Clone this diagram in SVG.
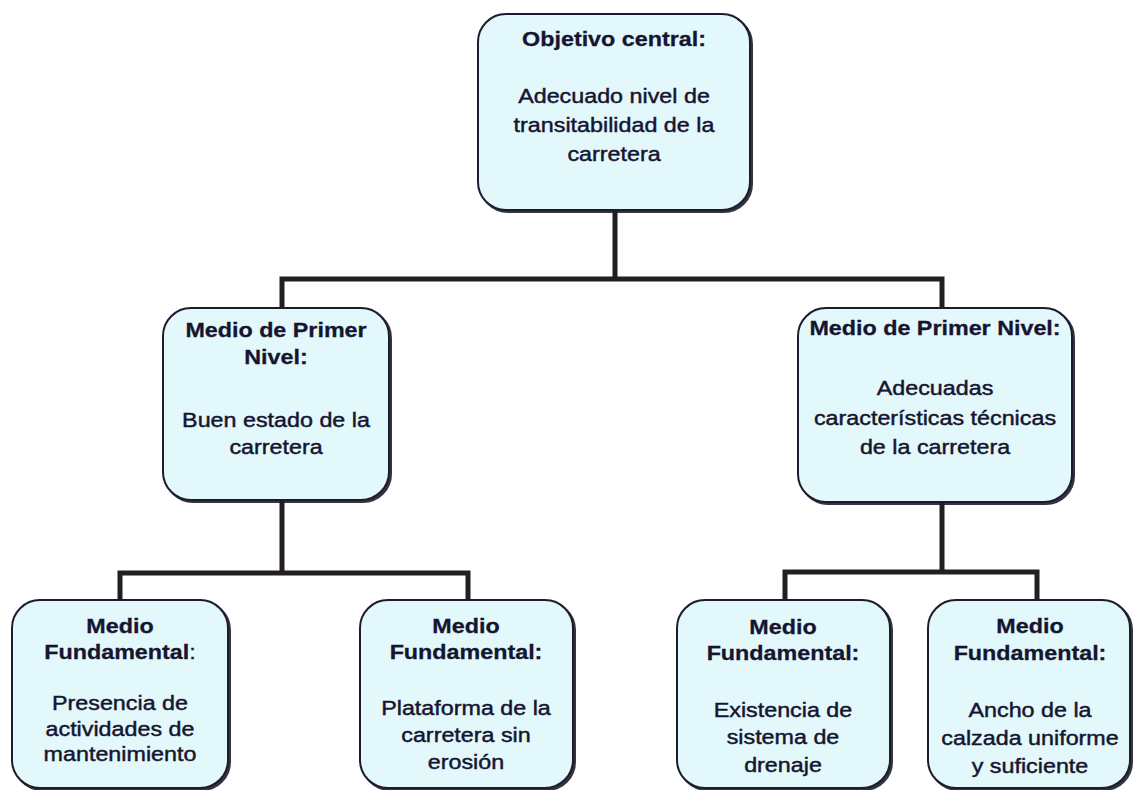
<svg xmlns="http://www.w3.org/2000/svg" width="1135" height="790" viewBox="0 0 1135 790">
  <defs>
    <filter id="edge" x="-5%" y="-5%" width="112%" height="112%">
      <feDropShadow dx="2" dy="2" stdDeviation="0.6" flood-color="#1e1e2a" flood-opacity="0.9"/>
    </filter>
    <style>
      .box { fill: #e3f8fb; stroke: #1e1e2e; stroke-width: 2; filter: url(#edge); }
      .wire { fill: none; stroke: #221e22; stroke-width: 5; stroke-linecap: square; }
      text { font-family: "Liberation Sans", Arial, sans-serif; font-size: 21px; fill: #151530; stroke: #151530; stroke-width: 0.45; text-anchor: middle; }
      .b { font-weight: bold; stroke-width: 0.3; }
      .n { font-weight: normal; }
    </style>
  </defs>
  <rect width="1135" height="790" fill="#ffffff"/>

  <!-- connectors -->
  <g id="connectors">
    <path class="wire" d="M615 210 V279 M282 279 H942 M282 279 V308 M942 279 V308"/>
    <path class="wire" d="M282 500 V573 M120 573 H468 M120 573 V600 M468 573 V600"/>
    <path class="wire" d="M942 502 V572 M785 572 H1037 M785 572 V600 M1037 572 V600"/>
  </g>

  <!-- central objective -->
  <g id="objetivo-central">
    <rect class="box" x="478" y="14" width="272" height="196" rx="28"/>
    <g transform="translate(614 0) scale(1.11 1)">
      <text class="b" x="0" y="46">Objetivo central:</text>
      <text x="0" y="103">Adecuado nivel de</text>
      <text x="0" y="132">transitabilidad de la</text>
      <text x="0" y="161">carretera</text>
    </g>
  </g>

  <!-- first level means -->
  <g id="medio-primer-nivel-1">
    <rect class="box" x="163" y="308" width="226" height="192" rx="28"/>
    <g transform="translate(276 0) scale(1.11 1)">
      <text class="b" x="0" y="337">Medio de Primer</text>
      <text class="b" x="0" y="364">Nivel:</text>
      <text x="0" y="427">Buen estado de la</text>
      <text x="0" y="454">carretera</text>
    </g>
  </g>

  <g id="medio-primer-nivel-2">
    <rect class="box" x="798" y="308" width="274" height="194" rx="28"/>
    <g transform="translate(935 0) scale(1.11 1)">
      <text class="b" x="0" y="335">Medio de Primer Nivel:</text>
      <text x="0" y="395">Adecuadas</text>
      <text x="0" y="425">características técnicas</text>
      <text x="0" y="454">de la carretera</text>
    </g>
  </g>

  <!-- fundamental means -->
  <g id="medio-fundamental-1">
    <rect class="box" x="12" y="600" width="216" height="188" rx="28"/>
    <g transform="translate(120 0) scale(1.11 1)">
      <text class="b" x="0" y="633">Medio</text>
      <text class="b" x="0" y="659">Fundamental<tspan class="n">:</tspan></text>
      <text x="0" y="710">Presencia de</text>
      <text x="0" y="736">actividades de</text>
      <text x="0" y="761">mantenimiento</text>
    </g>
  </g>

  <g id="medio-fundamental-2">
    <rect class="box" x="360" y="600" width="213" height="188" rx="28"/>
    <g transform="translate(466 0) scale(1.11 1)">
      <text class="b" x="0" y="633">Medio</text>
      <text class="b" x="0" y="659">Fundamental:</text>
      <text x="0" y="715">Plataforma de la</text>
      <text x="0" y="742">carretera sin</text>
      <text x="0" y="769">erosión</text>
    </g>
  </g>

  <g id="medio-fundamental-3">
    <rect class="box" x="677" y="600" width="213" height="188" rx="28"/>
    <g transform="translate(783 0) scale(1.11 1)">
      <text class="b" x="0" y="634">Medio</text>
      <text class="b" x="0" y="660">Fundamental:</text>
      <text x="0" y="717">Existencia de</text>
      <text x="0" y="744">sistema de</text>
      <text x="0" y="772">drenaje</text>
    </g>
  </g>

  <g id="medio-fundamental-4">
    <rect class="box" x="928" y="600" width="202" height="188" rx="28"/>
    <g transform="translate(1030 0) scale(1.11 1)">
      <text class="b" x="0" y="633">Medio</text>
      <text class="b" x="0" y="660">Fundamental:</text>
      <text x="0" y="717">Ancho de la</text>
      <text x="0" y="745">calzada uniforme</text>
      <text x="0" y="773">y suficiente</text>
    </g>
  </g>
</svg>
